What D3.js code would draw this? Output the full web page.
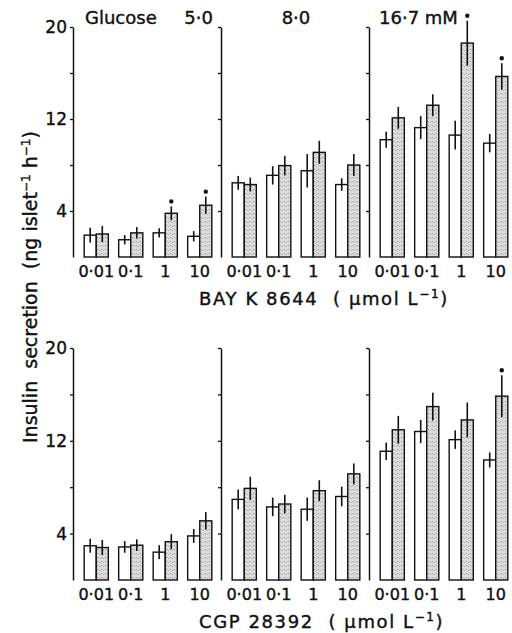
<!DOCTYPE html>
<html>
<head>
<meta charset="utf-8">
<script src="https://cdn.jsdelivr.net/npm/d3@7"></script>
<style>
  body { margin: 0; background: #fff; }
  text { font-family: "DejaVu Sans", sans-serif; fill: #111; stroke: #111; stroke-width: 0.4px; }
</style>
</head>
<body>
<svg id="chart" width="512" height="633"></svg>
<script>
// DATA
const glucose = ["5·0", "8·0", "16·7"];
const doses = ["0·01", "0·1", "1", "10"];
const yTicks = [4, 8, 12, 16, 20];
const yTickLabels = [4, 12, 20];

// insulin secretion, ng islet-1 h-1 : [glucose][dose]
const bayControl = [[1.9, 1.5, 2.1, 1.8], [6.45, 7.1, 7.5, 6.3], [10.2, 11.25, 10.6, 9.9]];
const bayControlSem = [[0.65, 0.4, 0.4, 0.45], [0.6, 0.8, 1.45, 0.55], [0.7, 1.0, 1.25, 0.8]];
const bayDrug = [[2.0, 2.1, 3.8, 4.5], [6.3, 7.95, 9.1, 8.0], [12.1, 13.2, 18.6, 15.7]];
const bayDrugSem = [[0.7, 0.5, 0.6, 0.75], [0.6, 0.85, 1.0, 0.95], [0.95, 0.95, 1.95, 1.15]];
const bayStar = [[0, 0, 1, 1], [0, 0, 0, 0], [0, 0, 1, 1]];

const cgpControl = [[2.95, 2.85, 2.4, 3.8], [6.95, 6.3, 6.1, 7.2], [11.1, 12.8, 12.1, 10.35]];
const cgpControlSem = [[0.6, 0.5, 0.6, 0.6], [0.85, 0.8, 1.0, 0.85], [0.75, 1.0, 0.8, 0.65]];
const cgpDrug = [[2.8, 3.0, 3.3, 5.1], [7.9, 6.55, 7.7, 9.15], [12.95, 14.95, 13.8, 15.85]];
const cgpDrugSem = [[0.65, 0.5, 0.65, 0.75], [1.0, 0.8, 0.9, 0.9], [1.2, 1.2, 1.5, 1.8]];
const cgpStar = [[0, 0, 0, 0], [0, 0, 0, 0], [0, 0, 0, 1]];

const rows = [
  { drug: "BAY K 8644", ctrl: bayControl, ctrlSem: bayControlSem, drg: bayDrug, drgSem: bayDrugSem, star: bayStar, top: 27, bottom: 257 },
  { drug: "CGP 28392", ctrl: cgpControl, ctrlSem: cgpControlSem, drg: cgpDrug, drgSem: cgpDrugSem, star: cgpStar, top: 348, bottom: 580 },
];

// CANVAS SETUP
const svg = d3.select("#chart");
const ink = "#111";

const defs = svg.append("defs");
const pat = defs.append("pattern")
  .attr("id", "stipple")
  .attr("width", 4)
  .attr("height", 4)
  .attr("patternUnits", "userSpaceOnUse");
pat.append("rect").attr("width", 4).attr("height", 4).attr("fill", "#dcdcdc");
pat.append("rect").attr("x", 1).attr("y", 1).attr("width", 1).attr("height", 1).attr("fill", "#858585");
pat.append("rect").attr("x", 3).attr("y", 2).attr("width", 1).attr("height", 1).attr("fill", "#aaaaaa");

const x0 = d3.scaleBand().domain(glucose).range([73, 517]);
const x1 = d3.scaleBand().domain(doses).range([6, 144]).paddingInner(0.3).paddingOuter(0.15);
const x2 = d3.scaleBand().domain(["ctrl", "drug"]).range([0, x1.bandwidth()]);

// RENDER
rows.forEach((row, ri) => {
  const y = d3.scaleLinear().domain([0, 20]).range([row.bottom, row.top]);
  const gRow = svg.append("g").attr("class", "row" + ri);

  glucose.forEach((gl, gi) => {
    const gp = gRow.append("g").attr("transform", `translate(${x0(gl)},0)`);

    // axis
    const axis = d3.axisLeft(y)
      .tickValues(yTicks)
      .tickSize(3)
      .tickSizeOuter(0)
      .tickPadding(3)
      .tickFormat((d) => (gi == 0 && yTickLabels.includes(d) ? d : ""));
    const ga = gp.append("g").call(axis);
    ga.select(".domain").attr("stroke", ink).attr("stroke-width", 1.5);
    ga.selectAll(".tick line").attr("stroke", ink).attr("stroke-width", 1.3);
    ga.selectAll(".tick text")
      .attr("fill", ink)
      .style("font-family", "'DejaVu Sans', sans-serif")
      .style("font-size", "17px");

    const data = doses.map((d, di) => ({
      dose: d,
      ctrl: row.ctrl[gi][di],
      ctrlSem: row.ctrlSem[gi][di],
      drug: row.drg[gi][di],
      drugSem: row.drgSem[gi][di],
      star: row.star[gi][di],
    }));

    const groups = gp.selectAll("g.dose")
      .data(data)
      .join("g")
      .attr("class", "dose")
      .attr("transform", (d) => `translate(${x1(d.dose)},0)`);

    groups.append("rect")
      .attr("x", x2("ctrl"))
      .attr("y", (d) => y(d.ctrl))
      .attr("width", x2.bandwidth())
      .attr("height", (d) => y(0) - y(d.ctrl))
      .attr("fill", "#fff")
      .attr("stroke", ink)
      .attr("stroke-width", 1.4);

    groups.append("rect")
      .attr("x", x2("drug"))
      .attr("y", (d) => y(d.drug))
      .attr("width", x2.bandwidth())
      .attr("height", (d) => y(0) - y(d.drug))
      .attr("fill", "url(#stipple)")
      .attr("stroke", ink)
      .attr("stroke-width", 1.4);

    // error bars
    groups.append("line")
      .attr("x1", x2("ctrl") + x2.bandwidth() / 2)
      .attr("x2", x2("ctrl") + x2.bandwidth() / 2)
      .attr("y1", (d) => y(d.ctrl - d.ctrlSem))
      .attr("y2", (d) => y(d.ctrl + d.ctrlSem))
      .attr("stroke", ink)
      .attr("stroke-width", 1.6);

    groups.append("line")
      .attr("x1", x2("drug") + x2.bandwidth() / 2)
      .attr("x2", x2("drug") + x2.bandwidth() / 2)
      .attr("y1", (d) => y(d.drug - d.drugSem))
      .attr("y2", (d) => y(d.drug + d.drugSem))
      .attr("stroke", ink)
      .attr("stroke-width", 1.6);

    groups.filter((d) => d.star == 1)
      .append("circle")
      .attr("cx", x2("drug") + x2.bandwidth() / 2)
      .attr("cy", (d) => y(d.drug + d.drugSem) - 5)
      .attr("r", 2.2)
      .attr("fill", ink);

    // dose labels
    groups.append("text")
      .attr("x", x1.bandwidth() / 2)
      .attr("y", row.bottom + 20)
      .attr("text-anchor", "middle")
      .style("font-size", "16px")
      .text((d) => d.dose);
  });

  // drug title
  const t = gRow.append("text")
    .attr("x", 199)
    .attr("y", row.bottom + 48)
    .style("font-size", "18px")
    .style("letter-spacing", "1.6px")
    .attr("xml:space", "preserve");
  t.append("tspan").text(row.drug + "  ( \u03bcmol L");
  t.append("tspan").attr("dy", -7).style("font-size", "12px").text("\u22121");
  t.append("tspan").attr("dy", 7).text(")");
});

// glucose titles
svg.append("text").attr("x", x0(glucose[0]) + 12).attr("y", 24)
  .style("font-size", "18px").text("Glucose");
svg.append("text").attr("x", x0(glucose[0]) + 140).attr("y", 24)
  .attr("text-anchor", "end").style("font-size", "18px").text(glucose[0]);
svg.append("text").attr("x", x0(glucose[1]) + 75).attr("y", 24)
  .attr("text-anchor", "middle").style("font-size", "18px").text(glucose[1]);
svg.append("text").attr("x", x0(glucose[2]) + 10).attr("y", 24)
  .style("font-size", "18px").text(glucose[2] + " mM");

// y title
const yt = svg.append("text")
  .attr("transform", "translate(37,443) rotate(-90)")
  .style("font-size", "19px")
  .attr("xml:space", "preserve");
yt.append("tspan").text("Insulin  secretion  (ng islet");
yt.append("tspan").attr("dy", -7).style("font-size", "12px").text("\u22121");
yt.append("tspan").attr("dy", 7).text(" h");
yt.append("tspan").attr("dy", -7).style("font-size", "12px").text("\u22121");
yt.append("tspan").attr("dy", 7).text(")");
</script>
</body>
</html>
